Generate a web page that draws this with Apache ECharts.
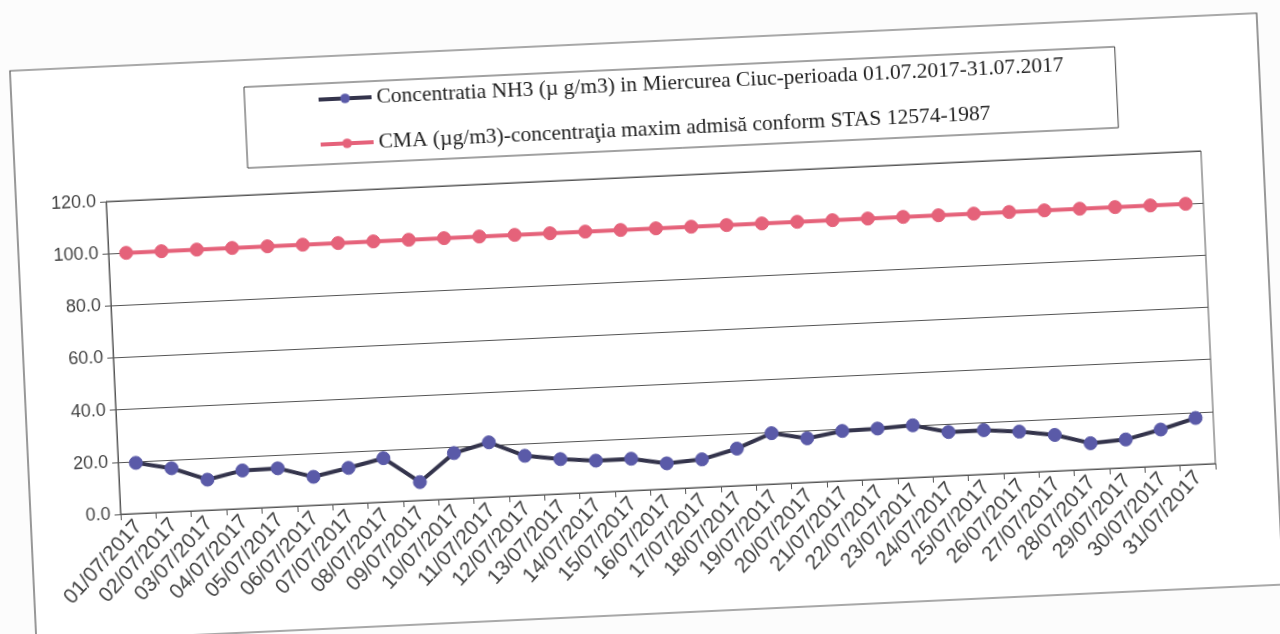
<!DOCTYPE html>
<html>
<head>
<meta charset="utf-8">
<script src="https://cdn.jsdelivr.net/npm/echarts/dist/echarts.min.js"></script>
<style>
  body { margin: 0; background: #fcfcfc; overflow: hidden; }
  /* the scan is tilted a little, so the whole chart is turned with it */
  .tilt {
    position: absolute; left: 0; top: 0;
    width: 1280px; height: 634px;
    transform: rotate(-2.65deg);
    transform-origin: 640px 317px;
  }
</style>
</head>
<body>
<div class="tilt">
  <div id="chart" style="width: 1280px; height: 634px;"></div>
</div>
<script>
// zile iulie 2017
const days = [
  '01/07/2017', '02/07/2017', '03/07/2017', '04/07/2017', '05/07/2017', '06/07/2017',
  '07/07/2017', '08/07/2017', '09/07/2017', '10/07/2017', '11/07/2017', '12/07/2017',
  '13/07/2017', '14/07/2017', '15/07/2017', '16/07/2017', '17/07/2017', '18/07/2017',
  '19/07/2017', '20/07/2017', '21/07/2017', '22/07/2017', '23/07/2017', '24/07/2017',
  '25/07/2017', '26/07/2017', '27/07/2017', '28/07/2017', '29/07/2017', '30/07/2017',
  '31/07/2017',
];
// concentratia NH3 (ug/m3)
const nh3 = [
  19.4, 16.7, 11.7, 14.6, 14.8, 10.9, 13.7, 16.8, 7.0, 17.5, 21.0,
  15.2, 13.3, 12.1, 12.2, 9.8, 10.7, 14.2, 19.5, 16.9, 19.1,
  19.4, 20.0, 16.8, 16.9, 15.7, 13.8, 10.0, 10.8, 14.0, 17.8,
];
// CMA - concentratia maxim admisa
const cma = [
  100, 100, 100, 100, 100, 100, 100, 100, 100, 100, 100,
  100, 100, 100, 100, 100, 100, 100, 100, 100, 100,
  100, 100, 100, 100, 100, 100, 100, 100, 100, 100,
];
const yTicks = [0, 20, 40, 60, 80, 100, 120];

const nameNH3 = 'Concentratia NH3 (µ g/m3) in Miercurea Ciuc-perioada 01.07.2017-31.07.2017';
const nameCMA = 'CMA (µg/m3)-concentraţia maxim admisă conform STAS 12574-1987';

const myChart = echarts.init(document.getElementById('chart'));
myChart.setOption({
  animation: false,
  backgroundColor: 'transparent',
  graphic: [{
    type: 'rect',
    z: -1,
    shape: { x: 22, y: 42, width: 1248, height: 572 },
    style: { fill: '#ffffff', stroke: '#555', lineWidth: 1.2 },
  }],
  legend: {
    data: [nameNH3, nameCMA],
    orient: 'vertical',
    align: 'left',
    left: 255,
    top: 69,
    padding: [5, 52, 9, 72],
    itemGap: 23,
    itemWidth: 53,
    itemHeight: 12,
    borderColor: '#444',
    borderWidth: 1,
    lineStyle: { width: 4 },
    textStyle: {
      fontFamily: 'Liberation Serif',
      fontSize: 21.5,
      color: '#222',
    },
  },
  grid: {
    left: 112,
    right: 72,
    top: 177,
    bottom: 144,
    show: true,
    borderColor: '#555',
    borderWidth: 1,
    containLabel: false,
    outerBoundsMode: 'none',
  },
  xAxis: {
    type: 'category',
    data: days,
    boundaryGap: true,
    axisLine: { lineStyle: { color: '#555', width: 1 } },
    axisTick: { show: true, inside: false, length: 6, lineStyle: { color: '#555' } },
    axisLabel: {
      interval: 0,
      rotate: 45,
      margin: 10,
      fontFamily: 'Liberation Sans',
      fontSize: 21,
      color: '#444',
    },
    splitLine: { show: false },
  },
  yAxis: {
    type: 'value',
    min: yTicks[0],
    max: yTicks[yTicks.length - 1],
    interval: 20,
    axisLine: { show: true, lineStyle: { color: '#555', width: 1 } },
    axisTick: { show: true, inside: false, length: 6, lineStyle: { color: '#555' } },
    axisLabel: {
      margin: 10,
      fontFamily: 'Liberation Sans',
      fontSize: 18,
      color: '#444',
      formatter: v => v.toFixed(1),
    },
    splitLine: { show: true, lineStyle: { color: '#555', width: 1 } },
  },
  series: [
    {
      type: 'line',
      name: nameNH3,
      data: nh3,
      symbol: 'circle',
      symbolSize: 13,
      showSymbol: true,
      lineStyle: { color: '#34344c', width: 4 },
      itemStyle: { color: '#5a5aa8', borderColor: '#5a5aa8' },
      z: 3,
    },
    {
      type: 'line',
      name: nameCMA,
      data: cma,
      symbol: 'circle',
      symbolSize: 13,
      showSymbol: true,
      lineStyle: { color: '#e5627a', width: 4 },
      itemStyle: { color: '#e5627a', borderColor: '#e5627a' },
      z: 2,
    },
  ],
});
</script>
</body>
</html>
